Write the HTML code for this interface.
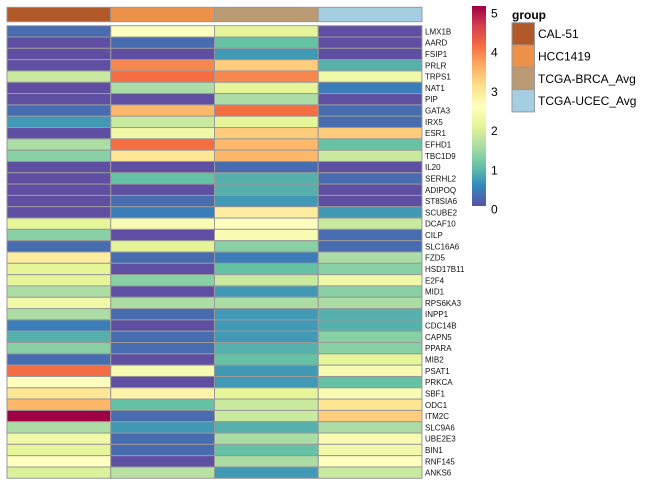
<!DOCTYPE html>
<html><head><meta charset="utf-8"><style>
body{margin:0;background:#fff;font-family:"Liberation Sans",sans-serif}
svg{display:block}
</style></head><body>
<svg id="chart" width="652" height="485">
<defs>
<linearGradient id="cb" x1="0" y1="1" x2="0" y2="0">
<stop offset="0" stop-color="#5E4FA2"/><stop offset="0.1" stop-color="#3288BD"/><stop offset="0.2" stop-color="#66C2A5"/><stop offset="0.3" stop-color="#ABDDA4"/><stop offset="0.4" stop-color="#E6F598"/><stop offset="0.5" stop-color="#FFFFBF"/><stop offset="0.6" stop-color="#FEE08B"/><stop offset="0.7" stop-color="#FDAE61"/><stop offset="0.8" stop-color="#F46D43"/><stop offset="0.9" stop-color="#D53E4F"/><stop offset="1" stop-color="#9E0142"/>
</linearGradient>
</defs>
<g id="cells"></g>
<rect x="472" y="6" width="14" height="200" fill="url(#cb)"/>
<g id="cbticks" font-size="12" fill="#000"></g>
<g id="legend"></g>
</svg>
<script>
const genes=["LMX1B","AARD","FSIP1","PRLR","TRPS1","NAT1","PIP","GATA3","IRX5","ESR1","EFHD1","TBC1D9","IL20","SERHL2","ADIPOQ","ST8SIA6","SCUBE2","DCAF10","CILP","SLC16A6","FZD5","HSD17B11","E2F4","MID1","RPS6KA3","INPP1","CDC14B","CAPN5","PPARA","MIB2","PSAT1","PRKCA","SBF1","ODC1","ITM2C","SLC9A6","UBE2E3","BIN1","RNF145","ANKS6"];
const groups=["CAL-51","HCC1419","TCGA-BRCA_Avg","TCGA-UCEC_Avg"];
const groupColors=["#B15928","#ED9149","#B99A73","#A6CEE3"];
const cal51=[0.25,0,0,0,1.75,0,0,0.25,0.65,0,1.5,1.25,0,0,0,0,0,2.0,1.25,0.25,2.8,2.0,2.0,1.5,2.2,1.5,0.4,0.85,1.25,0.25,4.0,2.5,2.9,3.4,5.0,1.5,2.2,2.0,2.5,1.9];
const hcc1419=[2.5,0.25,0,3.8,4.0,1.5,0,3.4,1.75,2.2,4.0,2.9,0,1.0,0,0.25,0.4,2.35,0,2.0,0.25,0,1.25,0,1.5,0.25,0,0.25,0.25,0,2.35,0,2.7,1.0,0.25,0.65,0.25,0.25,0,1.6];
const brca=[2.0,1.0,0.65,3.2,3.8,2.0,1.5,4.0,2.0,3.2,3.4,3.4,0.25,0.85,0.85,0.65,2.8,2.5,2.35,1.25,0.4,1.0,1.75,0.65,1.5,0.65,0.65,0.65,0.85,1.0,0.65,0.65,2.0,1.75,1.75,0.85,1.5,1.0,1.5,0.65];
const ucec=[0,0,0,0.85,2.2,0.4,0,0.25,0.25,3.2,1.0,1.75,0,0.25,0,0,0.65,1.75,0.25,0.25,1.5,1.25,2.2,1.25,1.5,0.85,0.85,1.25,1.25,2.0,2.35,1.0,2.35,2.9,3.2,1.5,2.35,2.2,2.5,1.75];
const cbTicks=[0,1,2,3,4,5];
const series=[cal51,hcc1419,brca,ucec];
const stops=["#5E4FA2","#3288BD","#66C2A5","#ABDDA4","#E6F598","#FFFFBF","#FEE08B","#FDAE61","#F46D43","#D53E4F","#9E0142"];
function hex(h){return [1,3,5].map(i=>parseInt(h.substr(i,2),16));}
function color(v){let t=Math.max(0,Math.min(5,v))*2;let i=Math.min(9,Math.floor(t));let f=t-i;let a=hex(stops[i]),b=hex(stops[i+1]);return "rgb("+a.map((c,k)=>Math.round(c+(b[k]-c)*f)).join(",")+")";}
const NS="http://www.w3.org/2000/svg";
const X0=7,X1=422,Y0=25.7,Y1=478.3;
const cw=(X1-X0)/groups.length,rh=(Y1-Y0)/genes.length;
const xs=j=>X0+j*cw, ys=i=>Y0+i*rh;
const cells=document.getElementById("cells");
function mk(tag,attrs){const e=document.createElementNS(NS,tag);for(const k in attrs)e.setAttribute(k,attrs[k]);return e;}
groups.forEach((g,j)=>{
  const r=mk("rect",{x:xs(j),y:7.3,width:cw,height:14.4,fill:groupColors[j],stroke:"#999","stroke-width":1});
  
  
  cells.appendChild(r);
});
genes.forEach((g,i)=>{
  series.forEach((s,j)=>{
    const r=mk("rect",{x:xs(j),y:ys(i),width:cw,height:rh,fill:color(s[i]),stroke:"#999","stroke-width":1});
    
    
    cells.appendChild(r);
  });
  const t=mk("text",{x:425,y:ys(i)+rh/2+3,"font-size":"8","fill":"#111"});
  t.textContent=g;
  
  
  cells.appendChild(t);
});
const cbt=document.getElementById("cbticks");
cbTicks.forEach(v=>{
  const y=209-v*39.2;
  const t=mk("text",{x:491,y:y+4.5});
  t.textContent=v;
  
  
  cbt.appendChild(t);
});
const lg=document.getElementById("legend");
const title=mk("text",{x:512,y:19,"font-size":"12","font-weight":"bold"});
title.textContent="group";


lg.appendChild(title);
groups.forEach((g,j)=>{
  const y=22.7+j*22.3;
  const r=mk("rect",{x:512,y:y,width:22.5,height:22.3,fill:groupColors[j],stroke:"#999","stroke-width":1});
  
  
  lg.appendChild(r);
  const t=mk("text",{x:538,y:y+15.5,"font-size":"12"});
  t.textContent=g;
  
  
  lg.appendChild(t);
});
</script>
</body></html>
